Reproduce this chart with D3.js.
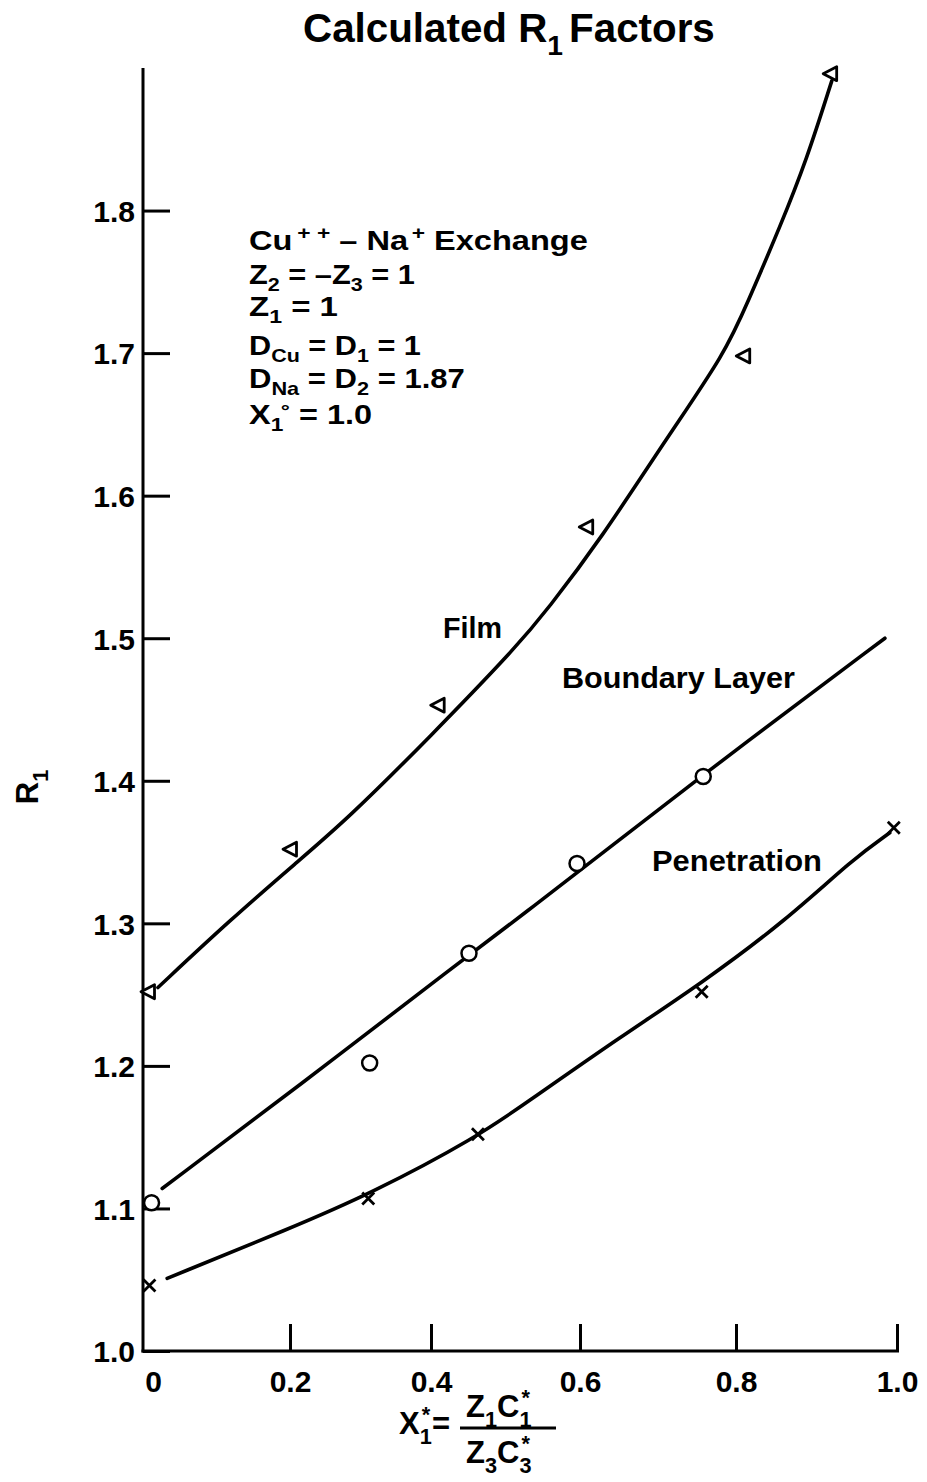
<!DOCTYPE html>
<html>
<head>
<meta charset="utf-8">
<script src="https://cdn.jsdelivr.net/npm/d3@7"></script>
<style>
  html, body { margin: 0; padding: 0; background: #fff; }
  svg { display: block; }
  text { font-family: "Liberation Sans", Arial, Helvetica, sans-serif; font-weight: bold; fill: #000; }
</style>
</head>
<body>
<svg id="chart" width="927" height="1482"></svg>
<script>
// ---------- data ----------
const xTickValues = [0, 0.2, 0.4, 0.6, 0.8, 1.0];
const xTickLabels = ["0", "0.2", "0.4", "0.6", "0.8", "1.0"];
const yTickValues = [1.0, 1.1, 1.2, 1.3, 1.4, 1.5, 1.6, 1.7, 1.8];
const yTickLabels = ["1.0", "1.1", "1.2", "1.3", "1.4", "1.5", "1.6", "1.7", "1.8"];

// calculated points
const filmX = [0, 0.2, 0.409, 0.608, 0.809, 0.917];
const filmY = [1.252, 1.352, 1.453, 1.578, 1.698, 1.896];
const boundaryX = [0.005, 0.313, 0.451, 0.596, 0.758];
const boundaryY = [1.104, 1.202, 1.279, 1.342, 1.403];
const penetrationX = [0.002, 0.311, 0.463, 0.756, 0.996];
const penetrationY = [1.046, 1.107, 1.152, 1.252, 1.367];

// smooth curves as drawn
const filmCurveX = [0.014, 0.116, 0.21, 0.281, 0.399, 0.515, 0.556, 0.626, 0.712, 0.786, 0.814, 0.855, 0.888, 0.919];
const filmCurveY = [1.255, 1.3025, 1.343, 1.373, 1.431, 1.494, 1.520, 1.569, 1.641, 1.700, 1.735, 1.789, 1.836, 1.891];
const boundaryCurveX = [0.02, 0.21, 0.439, 0.533, 0.609, 0.821, 0.985];
const boundaryCurveY = [1.114, 1.185, 1.273, 1.31, 1.341, 1.431, 1.500];
const penetrationCurveX = [0.027, 0.2, 0.313, 0.462, 0.533, 0.651, 0.756, 0.863, 0.945, 0.991];
const penetrationCurveY = [1.051, 1.086, 1.11, 1.15, 1.176, 1.22, 1.258, 1.3025, 1.345, 1.3635];

// ---------- layout ----------
const svg = d3.select("#chart");
const x = d3.scaleLinear().domain(xTickValues).range([148, 290, 431, 580, 736, 897]);
const y = d3.scaleLinear().domain([1.0, 1.9]).range([1351, 68]);
const axisX0 = x(0) - 5;
const axisXEnd = x(1.0) + 2;
const FONT = '"Liberation Sans", Arial, Helvetica, sans-serif';

// rich text helper: segments {t, sub, sup, dx}
function rich(g, segs, size, xPos, yPos, anchor, subK, supK) {
  subK = subK || 0.32; supK = supK || 0.4;
  const t = g.append("text").attr("x", xPos).attr("y", yPos)
    .attr("font-size", size).attr("text-anchor", anchor || "start");
  let off = 0;
  segs.forEach(s => {
    let target = 0, fs = size;
    if (s.sub) { target = size * subK; fs = size * 0.7; }
    if (s.sup) { target = -size * (s.supK || supK); fs = size * 0.7; }
    const ts = t.append("tspan").attr("font-size", fs).attr("dy", target - off).text(s.t);
    if (s.dx) ts.attr("dx", s.dx);
    off = target;
  });
  return t;
}
function fit(t, left, width) {
  const bb = t.node().getBBox();
  const s = width / bb.width;
  t.attr("x", 0).attr("transform", `translate(${left},0) scale(${s},1)`);
  const bb2 = t.node().getBBox();
  t.attr("transform", `translate(${left - bb2.x * s},0) scale(${s},1)`);
}

// ---------- axes ----------
const yAxis = d3.axisLeft(y).tickValues(yTickValues)
  .tickFormat((d, i) => yTickLabels[i]).tickSize(-27).tickPadding(8);
const gy = svg.append("g").attr("transform", `translate(${axisX0},0)`).call(yAxis);
gy.select(".domain").remove();
gy.selectAll(".tick line").attr("stroke", "#000").attr("stroke-width", 3);
gy.selectAll(".tick text").attr("font-family", FONT).attr("font-weight", "bold")
  .attr("font-size", 30).attr("fill", "#000").attr("dy", "0.36em");

const xAxis = d3.axisBottom(x).tickValues(xTickValues)
  .tickFormat((d, i) => xTickLabels[i]).tickSize(-27).tickPadding(20);
const gx = svg.append("g").attr("transform", `translate(0,${y(1.0)})`).call(xAxis);
gx.select(".domain").remove();
gx.selectAll(".tick line").attr("stroke", "#000").attr("stroke-width", 3)
  .attr("display", d => d === 0 ? "none" : null);
gx.selectAll(".tick text").attr("font-family", FONT).attr("font-weight", "bold")
  .attr("font-size", 30).attr("fill", "#000")
  .attr("dx", d => d === 0 ? 5 : 0);

// axis lines
svg.append("line").attr("x1", axisX0).attr("x2", axisX0)
  .attr("y1", y(1.9)).attr("y2", y(1.0) + 1.5)
  .attr("stroke", "#000").attr("stroke-width", 3);
svg.append("line").attr("x1", axisX0 - 1.5).attr("x2", axisXEnd)
  .attr("y1", y(1.0)).attr("y2", y(1.0))
  .attr("stroke", "#000").attr("stroke-width", 3);

// ---------- curves ----------
const line = d3.line().x(d => x(d[0])).y(d => y(d[1])).curve(d3.curveBasis);
const curves = [
  d3.zip(filmCurveX, filmCurveY),
  d3.zip(boundaryCurveX, boundaryCurveY),
  d3.zip(penetrationCurveX, penetrationCurveY)
];
svg.append("g").selectAll("path").data(curves).join("path")
  .attr("d", line).attr("fill", "none").attr("stroke", "#000")
  .attr("stroke-width", 3.6).attr("stroke-linecap", "round");

// ---------- markers ----------
svg.append("g").selectAll("path").data(d3.zip(filmX, filmY)).join("path")
  .attr("transform", d => `translate(${x(d[0])},${y(d[1])})`)
  .attr("d", "M-7,0L6.5,-7L6.5,7Z")
  .attr("fill", "#fff").attr("stroke", "#000").attr("stroke-width", 2.8)
  .attr("stroke-linejoin", "round");
svg.append("g").selectAll("circle").data(d3.zip(boundaryX, boundaryY)).join("circle")
  .attr("cx", d => x(d[0])).attr("cy", d => y(d[1])).attr("r", 7.5)
  .attr("fill", "#fff").attr("stroke", "#000").attr("stroke-width", 2.5);
svg.append("g").selectAll("path").data(d3.zip(penetrationX, penetrationY)).join("path")
  .attr("transform", d => `translate(${x(d[0])},${y(d[1])})`)
  .attr("d", "M-6,-6L6,6M-6,6L6,-6")
  .attr("fill", "none").attr("stroke", "#000").attr("stroke-width", 2.8);

// ---------- texts ----------
const title = rich(svg, [{t: "Calculated R"}, {t: "1", sub: true}, {t: "Factors", dx: 6}], 40, 0, 42);
fit(title, 303, 412);

const yl = svg.append("g").attr("transform", "translate(38,787) rotate(-90)");
rich(yl, [{t: "R"}, {t: "1", sub: true}], 31, 0, 0, "middle");

const info = svg.append("g");
const infoLines = [
  [{t: "Cu"}, {t: "+ +", sup: true, dx: 4}, {t: " \u2013 Na"}, {t: "+", sup: true, dx: 3}, {t: " Exchange"}],
  [{t: "Z"}, {t: "2", sub: true}, {t: "=\u2013Z"}, {t: "3", sub: true}, {t: "=1"}],
  [{t: "Z"}, {t: "1", sub: true}, {t: "=1"}],
  [{t: "D"}, {t: "Cu", sub: true}, {t: "=D"}, {t: "1", sub: true}, {t: "=1"}],
  [{t: "D"}, {t: "Na", sub: true}, {t: "=D"}, {t: "2", sub: true}, {t: "=1.87"}],
  [{t: "X"}, {t: "1", sub: true}, {t: "\u00b0", sup: true, supK: 0.26, dx: -2}, {t: "=1.0"}]
];
const infoBase = [250, 284, 316, 355, 388, 424];
const infoRight = [588, 415, 338, 421, 465, 372];
infoLines.forEach((segs, i) => {
  const t = rich(info, segs, 27, 0, infoBase[i], "start", 0.26, 0.4);
  t.selectAll("tspan").each(function() {
    const el = d3.select(this);
    el.text(el.text().replace(/=/g, " = "));
  });
  fit(t, 249, infoRight[i] - 249);
});

const f = rich(svg, [{t: "Film"}], 29, 0, 638); fit(f, 443, 59);
const b = rich(svg, [{t: "Boundary Layer"}], 29, 0, 688); fit(b, 562, 233);
const p = rich(svg, [{t: "Penetration"}], 29, 0, 871); fit(p, 652, 170);

// x axis label
const xl = svg.append("g");
rich(xl, [{t: "X"}, {t: "1", sub: true}, {t: "*", sup: true, dx: -10}], 31, 399, 1434);
rich(xl, [{t: "="}], 31, 432, 1434);
rich(xl, [{t: "Z"}, {t: "1", sub: true}, {t: "C"}, {t: "1", sub: true}, {t: "*", sup: true, dx: -10}], 31, 466, 1417);
xl.append("line").attr("x1", 460).attr("x2", 556).attr("y1", 1428).attr("y2", 1428)
  .attr("stroke", "#000").attr("stroke-width", 3);
rich(xl, [{t: "Z"}, {t: "3", sub: true}, {t: "C"}, {t: "3", sub: true}, {t: "*", sup: true, dx: -10}], 31, 466, 1463);
</script>
</body>
</html>
